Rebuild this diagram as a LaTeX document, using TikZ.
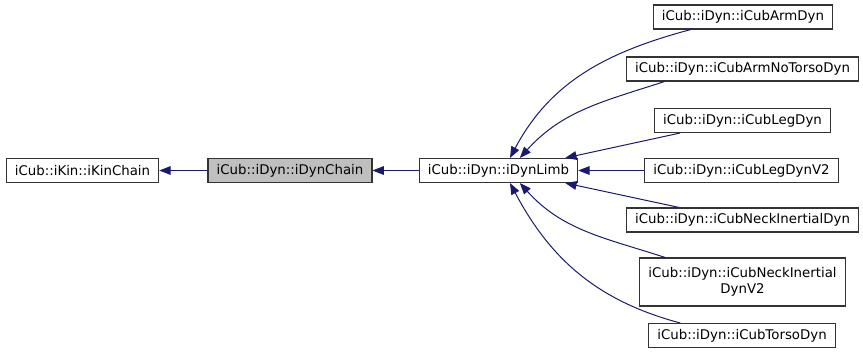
\documentclass[tikz,border=0pt]{standalone}
\usepackage{fontspec}
\setmainfont{DejaVu Sans}
\usetikzlibrary{arrows.meta}
\definecolor{edgeblue}{HTML}{191970}
\definecolor{boxgray}{HTML}{BFBFBF}

\begin{document}
\begin{tikzpicture}[x=0.75pt,y=-0.75pt,
  cls/.style={draw=black!80,line width=0.8pt,fill=white,inner xsep=6.5pt,minimum height=18pt,
    font=\fontsize{10}{12}\selectfont},
  base/.style={-{Triangle[length=8.5pt,width=6.5pt]},edgeblue,line width=0.75pt}]
  \useasboundingbox (0,0) rectangle (863,357);
  % base classes
  \node[cls] (kin) at (82.5,170.5) {iCub::iKin::iKinChain};
  \node[cls,fill=boxgray] (chain) at (290,170.5) {iCub::iDyn::iDynChain};
  \node[cls] (limb) at (498.5,170.5) {iCub::iDyn::iDynLimb};
  % derived limbs
  \node[cls] (arm) at (743,17) {iCub::iDyn::iCubArmDyn};
  \node[cls] (armnt) at (742.5,69) {iCub::iDyn::iCubArmNoTorsoDyn};
  \node[cls] (leg) at (742.5,120.5) {iCub::iDyn::iCubLegDyn};
  \node[cls] (legv) at (741.5,170.5) {iCub::iDyn::iCubLegDynV2};
  \node[cls] (neck) at (742.5,220) {iCub::iDyn::iCubNeckInertialDyn};
  \node[cls,align=center,minimum height=36pt] (neckv) at (742.5,282)
    {iCub::iDyn::iCubNeckInertial\\DynV2};
  \node[cls] (torso) at (742,335.5) {iCub::iDyn::iCubTorsoDyn};

  \draw[base] (chain) -- (kin);
  \draw[base] (limb) -- (chain);
  \draw[base] ([xshift=28.5pt]arm.south west) to[out=195,in=62] ([xshift=8.6pt]limb.north);
  \draw[base] ([xshift=29pt]armnt.south west) to[out=198,in=48] ([xshift=16pt]limb.north);
  \draw[base] ([xshift=19.5pt]leg.south west) -- ([xshift=-9.75pt]limb.north east);
  \draw[base] (legv) -- (limb);
  \draw[base] ([xshift=40pt]neck.north west) -- ([xshift=-9.75pt]limb.south east);
  \draw[base] ([xshift=19.5pt]neckv.north west) to[out=162,in=-48] ([xshift=16pt]limb.south);
  \draw[base] ([xshift=24pt]torso.north west) to[out=165,in=-62] ([xshift=8.6pt]limb.south);
\end{tikzpicture}
\end{document}
